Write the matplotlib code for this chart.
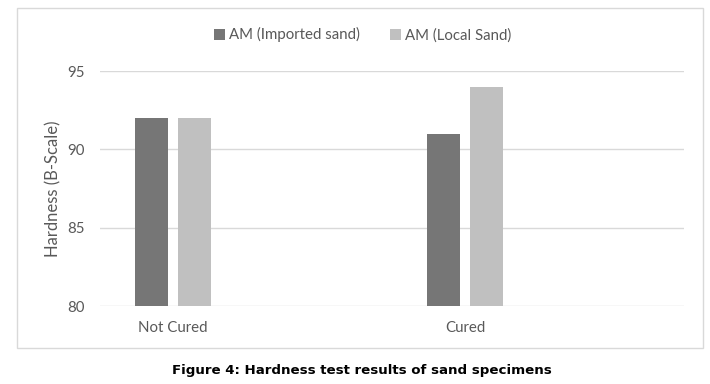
import matplotlib

matplotlib.use("Agg")
import matplotlib.pyplot as plt
from matplotlib.patches import Rectangle

CATEGORIES = ["Not Cured", "Cured"]
SERIES = ["AM (Imported sand)", "AM (Local Sand)"]
IMPORTED = [92, 91]
LOCAL = [92, 94]
COLORS = ["#767676", "#c0c0c0"]
TEXT = "#595959"
GRID = "#d9d9d9"

plt.rcParams["font.family"] = ["Lato", "DejaVu Sans"]

fig = plt.figure(figsize=(7.1, 3.84), dpi=100)
fig.patches.append(
    Rectangle((0.024, 0.094), 0.966, 0.885, transform=fig.transFigure,
              fill=False, edgecolor=GRID, linewidth=1.0)
)
ax = fig.add_axes([0.1408, 0.2031, 0.8225, 0.6120])

xs = list(range(len(CATEGORIES)))
w = 0.113
off = 0.073
for k, vals in enumerate([IMPORTED, LOCAL]):
    ax.bar([x + (2 * k - 1) * off for x in xs], [v - 80 for v in vals], w,
           bottom=80, color=COLORS[k], label=SERIES[k], zorder=3)

ax.set_xlim(-0.25, 1.75)
ax.set_ylim(80, 95)
ax.set_yticks([80, 85, 90, 95])
ax.set_xticks(xs, CATEGORIES)
ax.tick_params(length=0, colors=TEXT, labelsize=10.8)
ax.tick_params(axis="x", pad=11)
ax.tick_params(axis="y", pad=11)
ax.grid(True, axis="y", color=GRID, linewidth=1.0, zorder=0)
for s in ax.spines.values():
    s.set_visible(False)
ax.set_ylabel("Hardness (B-Scale)", color=TEXT, fontsize=12, labelpad=4)

fig.legend(loc="center", bbox_to_anchor=(0.511, 0.909), ncol=2, frameon=False,
           fontsize=10.8, labelcolor=TEXT, handlelength=0.75, handleheight=0.75,
           handletextpad=0.25, columnspacing=2.0)

fig.text(0.509, 0.036, "Figure 4: Hardness test results of sand specimens",
         ha="center", va="center", fontsize=9.6, fontweight="bold",
         family="DejaVu Sans", color="black")

fig.savefig("out.png", dpi=100)
